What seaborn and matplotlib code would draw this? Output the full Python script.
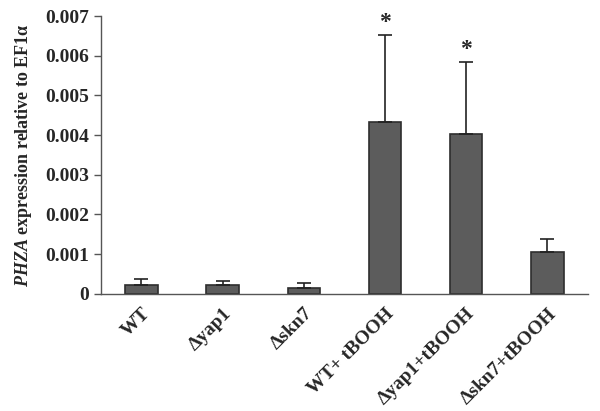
import pandas as pd
import seaborn as sns
import matplotlib.pyplot as plt
import numpy as np

# values
strains = ['WT', 'Δyap1', 'Δskn7', 'WT+ tBOOH', 'Δyap1+tBOOH', 'Δskn7+tBOOH']
expression = [0.00022, 0.00022, 0.00015, 0.00433, 0.00403, 0.00106]
err_upper = [0.00015, 0.00011, 0.00012, 0.00218, 0.00182, 0.00033]
significant = [False, False, False, True, True, False]

df = pd.DataFrame({'Strain': strains, 'Expression': expression})

sns.set_theme(style="white")
plt.rcParams['font.family'] = ['Liberation Serif', 'DejaVu Serif']
plt.rcParams['font.weight'] = 'bold'
plt.rcParams['mathtext.fontset'] = 'custom'
plt.rcParams['mathtext.it'] = 'Liberation Serif:italic:bold'
plt.rcParams['mathtext.rm'] = 'Liberation Serif:bold'

fig = plt.figure(figsize=(6, 4.11), dpi=100)
ax = fig.add_axes([0.168, 0.285, 0.812, 0.676])

sns.barplot(data=df, x='Strain', y='Expression', color='#5c5c5c',
            width=0.4, edgecolor='#2e2e2e', linewidth=1.2, saturation=1, ax=ax)

x = np.arange(len(strains))
ax.errorbar(x, expression, yerr=[np.zeros(len(x)), err_upper], fmt='none',
            ecolor='#222222', elinewidth=1.2, capsize=5, capthick=1.2)

for xi, yi, e, s in zip(x, expression, err_upper, significant):
    if s:
        ax.text(xi, yi + e + 0.00005, '*', ha='center', va='bottom',
                fontsize=17, fontweight='bold')

ax.set_ylim(0, 0.007)
ax.set_xlim(-0.5, len(strains) - 0.5)
ax.set_yticks(np.arange(0, 0.0071, 0.001))
ax.set_yticklabels(['0'] + [f'{v:.3f}' for v in np.arange(0.001, 0.0071, 0.001)],
                   fontsize=14, fontweight='bold')
ax.set_xticks(x)
ax.set_xticklabels(strains, rotation=45, ha='right', rotation_mode='anchor',
                   fontsize=14, fontweight='bold')
ax.tick_params(axis='x', length=0, pad=8)
# boundary ticks between categories
ax.set_xticks(np.arange(-0.5, len(strains)), minor=True)
ax.tick_params(axis='x', which='minor', length=5, width=1, direction='out', color='#555555')
ax.tick_params(axis='y', length=5, width=1, direction='out', color='#555555', left=True)

ax.set_xlabel('')
ax.set_ylabel(r'$\it{PHZA}$ expression relative to EF1α', fontsize=13, fontweight='bold',
              labelpad=8)

for side in ['top', 'right']:
    ax.spines[side].set_visible(False)
for side in ['left', 'bottom']:
    ax.spines[side].set_color('#555555')
    ax.spines[side].set_linewidth(1)

plt.savefig('out.png', dpi=100)
